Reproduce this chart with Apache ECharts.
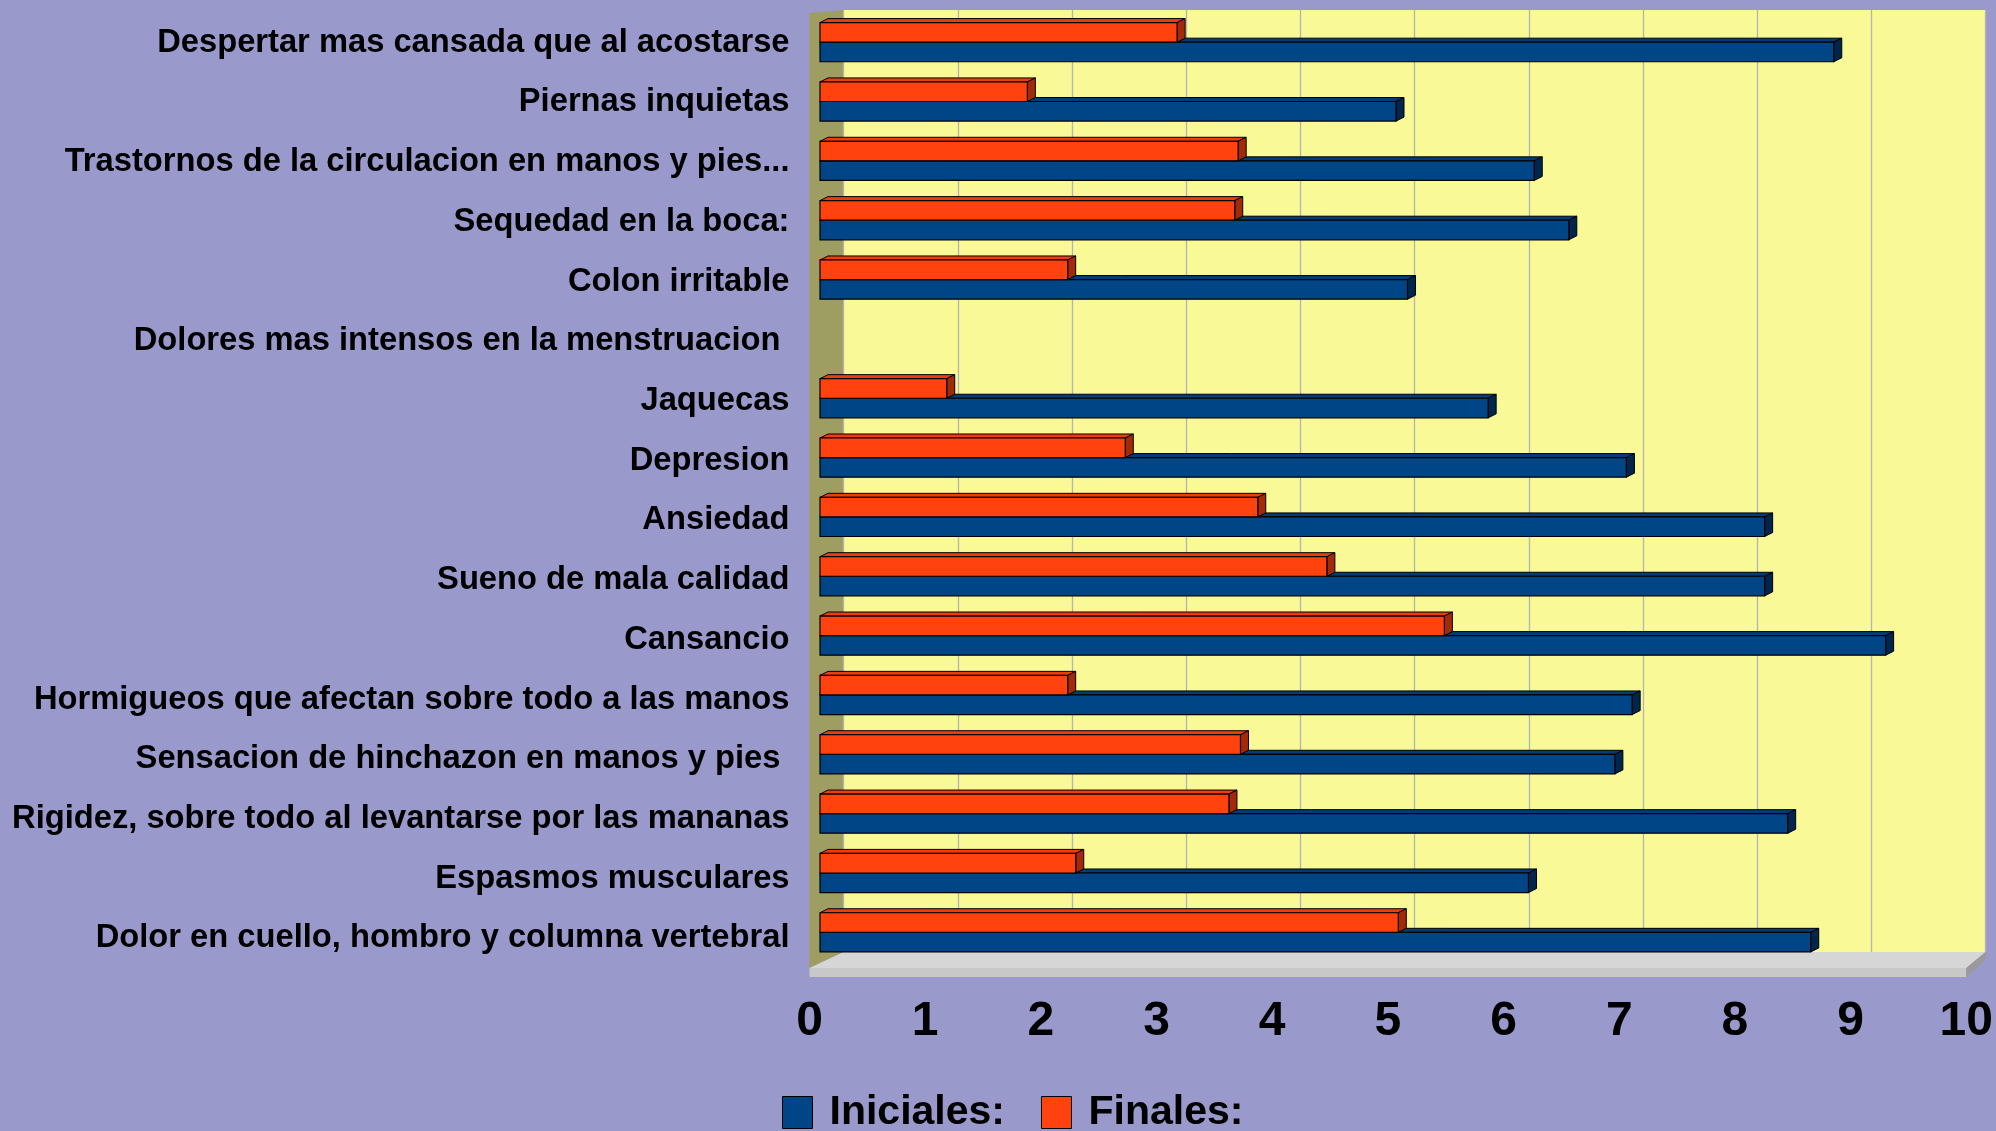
<!DOCTYPE html>
<html>
<head>
<meta charset="utf-8">
<script src="https://cdn.jsdelivr.net/npm/echarts@6/dist/echarts.min.js"></script>
<style>
html,body{margin:0;padding:0;background:#9999cc;}
#chart{width:1996px;height:1131px;}
</style>
</head>
<body>
<div id="chart"></div>
<script>
// Categories listed top to bottom
var categories = [
  "Despertar mas cansada que al acostarse",
  "Piernas inquietas",
  "Trastornos de la circulacion en manos y pies...",
  "Sequedad en la boca:",
  "Colon irritable",
  "Dolores mas intensos en la menstruacion ",
  "Jaquecas",
  "Depresion",
  "Ansiedad",
  "Sueno de mala calidad",
  "Cansancio",
  "Hormigueos que afectan sobre todo a las manos",
  "Sensacion de hinchazon en manos y pies ",
  "Rigidez, sobre todo al levantarse por las mananas",
  "Espasmos musculares",
  "Dolor en cuello, hombro y columna vertebral"
];
var iniciales = [8.8, 5.0, 6.2, 6.5, 5.1, 0, 5.8, 7.0, 8.2, 8.2, 9.25, 7.05, 6.9, 8.4, 6.15, 8.6];
var finales   = [3.1, 1.8, 3.63, 3.6, 2.15, 0, 1.1, 2.65, 3.8, 4.4, 5.42, 2.15, 3.65, 3.55, 2.22, 5.02];
var xTicks = [0, 1, 2, 3, 4, 5, 6, 7, 8, 9, 10];
var seriesNames = ["Iniciales:", "Finales:"];

var chart = echarts.init(document.getElementById('chart'), null, {renderer: 'canvas'});

function render3D(pos, front, top, side) {
  return function (params, api) {
    var v = api.value(0);
    var c = api.value(1);
    if (!v) return null;
    var s = api.coord([0, c]);
    var e = api.coord([v, c]);
    var bandH = api.size([0, 1])[1];
    var h = bandH * 0.33;
    var y0 = pos === 'above' ? s[1] - h : s[1];
    var x0 = s[0], x1 = e[0];
    var dx = 8, dy = -4;
    return {
      type: 'group',
      children: [
        {type: 'polygon', shape: {points: [[x0, y0], [x0 + dx, y0 + dy], [x1 + dx, y0 + dy], [x1, y0]]},
          style: {fill: top, stroke: '#000', lineWidth: 1}},
        {type: 'polygon', shape: {points: [[x1, y0], [x1 + dx, y0 + dy], [x1 + dx, y0 + h + dy], [x1, y0 + h]]},
          style: {fill: side, stroke: '#000', lineWidth: 1}},
        {type: 'rect', shape: {x: x0, y: y0, width: x1 - x0, height: h},
          style: {fill: front, stroke: '#000', lineWidth: 1.2}}
      ]
    };
  };
}

var FONT = '"Liberation Sans", Arial, sans-serif';

var option = {
  backgroundColor: '#9999cc',
  animation: false,
  legend: {
    data: seriesNames,
    left: 777,
    top: 1087,
    itemWidth: 30,
    itemHeight: 32,
    itemGap: 36,
    icon: 'rect',
    itemStyle: {borderColor: '#000', borderWidth: 1},
    textStyle: {fontFamily: FONT, fontWeight: 'bold', fontSize: 41, color: '#000', padding: [0, 0, 0, 12]}
  },
  grid: [
    {left: 820, top: 12.5, width: 1152, height: 949.5},
    {left: 843.6, top: 10, width: 1142, height: 942, show: true, backgroundColor: '#f9f997', borderWidth: 0},
    {left: 809.5, top: 12.8, width: 1157, height: 955.5}
  ],
  xAxis: [
    {gridIndex: 0, type: 'value', min: 0, max: 10, interval: 1, show: false},
    {gridIndex: 1, type: 'value', min: 0, max: 10, interval: 1,
      axisLine: {show: false}, axisTick: {show: false}, axisLabel: {show: false},
      splitLine: {show: true, lineStyle: {color: '#b4b4b4', width: 1.3}}},
    {gridIndex: 2, type: 'value', min: 0, max: 10, interval: 1,
      axisLine: {show: false}, axisTick: {show: false}, splitLine: {show: false},
      axisLabel: {show: true, margin: 29, color: '#000', fontFamily: FONT, fontWeight: 'bold', fontSize: 48,
        formatter: function (v) { return xTicks.indexOf(v) >= 0 ? String(v) : ''; }}}
  ],
  yAxis: [
    {gridIndex: 0, type: 'category', data: categories, inverse: true, show: false},
    {gridIndex: 1, type: 'value', show: false},
    {gridIndex: 2, type: 'category', data: categories, inverse: true,
      axisLine: {show: false}, axisTick: {show: false}, splitLine: {show: false},
      axisLabel: {margin: 20, color: '#000', fontFamily: FONT, fontWeight: 'bold', fontSize: 32.7,
        interval: 0, padding: [7, 0, 0, 0]}}
  ],
  series: [
    {name: seriesNames[0], type: 'custom', xAxisIndex: 0, yAxisIndex: 0,
      itemStyle: {color: '#004586'},
      renderItem: render3D('below', '#004586', '#003d78', '#00264d'),
      encode: {x: 0, y: 1},
      data: iniciales.map(function (v, i) { return [v, i]; })},
    {name: seriesNames[1], type: 'custom', xAxisIndex: 0, yAxisIndex: 0,
      itemStyle: {color: '#ff420e'},
      renderItem: render3D('above', '#ff420e', '#f03c0c', '#a32a08'),
      encode: {x: 0, y: 1},
      data: finales.map(function (v, i) { return [v, i]; })}
  ]
};
chart.setOption(option);

// Decorative 3D walls / floor derived from the axes
var bx0 = chart.convertToPixel({xAxisIndex: 1}, 0);
var bx1 = chart.convertToPixel({xAxisIndex: 1}, 10);
var fx0 = chart.convertToPixel({xAxisIndex: 2}, 0);
var fx1 = chart.convertToPixel({xAxisIndex: 2}, 10);
var wallTop = 10, backY = 952, frontY = 968, frontBottom = 977;
chart.setOption({
  graphic: [
    {type: 'polygon', z: -1, shape: {points: [[fx0, wallTop + 3], [bx0, wallTop], [bx0, backY], [fx0, frontY]]},
      style: {fill: '#9e9e62'}},
    {type: 'polygon', z: -1, shape: {points: [[bx0, backY], [bx1, backY], [fx1, frontY], [fx0, frontY]]},
      style: {fill: '#d6d6d6'}},
    {type: 'polygon', z: -1, shape: {points: [[fx0, frontY], [fx1, frontY], [fx1, frontBottom], [fx0, frontBottom]]},
      style: {fill: '#c8c8c8'}},
    {type: 'polygon', z: -1, shape: {points: [[fx1, frontY], [bx1, backY], [bx1, backY + 8], [fx1, frontBottom]]},
      style: {fill: '#9a9a9a'}}
  ]
});
</script>
</body>
</html>
